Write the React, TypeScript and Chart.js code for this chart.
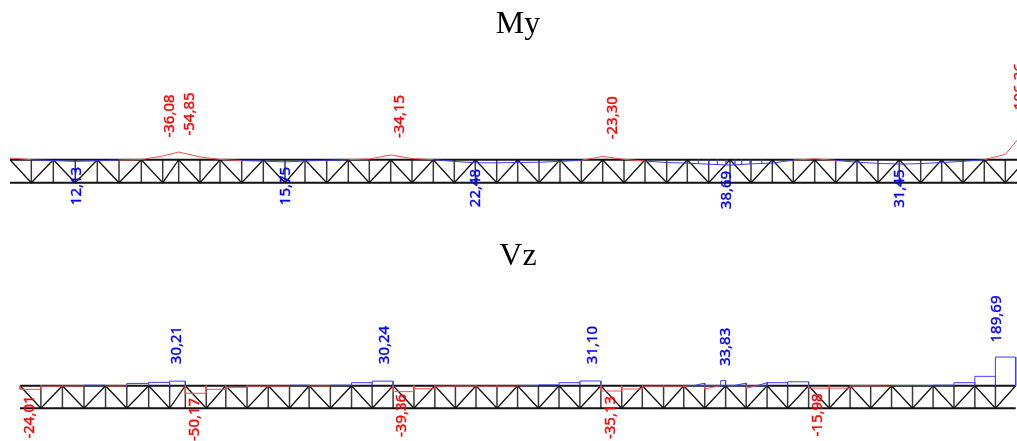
import React, { useEffect, useRef } from "react";
import { Chart, registerables } from "chart.js";

Chart.register(...registerables);

const trussDepth = 2.3;
const stations = [
  0, 2.13, 4.33, 6.53, 8.73, 10.9, 13.13, 15.27, 16.87, 19, 21, 23.17, 25.33, 27.5, 29.5, 31.67, 33.83,
  35.93, 38.07, 40.2, 42.33, 44.43, 46.53, 48.67, 50.77, 52.9, 55, 57.13, 59.27, 61.4, 63.5, 65.67, 67.73,
  69.87, 72, 74.1, 76.23, 78.33, 80.47, 82.57, 84.7, 86.8, 88.93, 91.07, 93.17, 95.3, 97.43, 99.53, 101.6,
];

const myValues = [
  -12, 0, 6, 12.13, 8, 2, -1, -26, -54.85, -20, -2, 6, 10, 15.75, 9, 4, 0, -5, -34.15, -8, 0, 12, 22.48, 22,
  20, 18, 12, 4, -23.3, -3, 10, 20, 25, 32, 38.69, 30, 24, 3, -6, 5, 18, 26, 31.45, 28, 20, 12, 0, -38, -214,
];
const myOrdinateX = [68.83, 69.87, 70.73, 71.6, 72.5, 73.17, 74, 75.17];
const myOrdinateV = [29, 32, 35, 37, 36, 33, 30, 27];
const myLabelTexts = ["-36,08", "-54,85", "-34,15", "-23,30", "-106,26", "12,13", "15,75", "22,48", "38,69", "31,45"];
const myLabelStations = [16, 18, 39, 60.27, 101, 6.65, 27.55, 46.57, 71.67, 89];
const myLabelHeights = [6.67, 6.87, 6.62, 6.5, 9.37, -0.33, -0.33, -0.53, -0.73, -0.6];
const myLabelValues = [-36.08, -54.85, -34.15, -23.3, -106.26, 12.13, 15.75, 22.48, 38.69, 31.45];

const vzPanels = [
  -24.01, -3, -2, 3, -2, 15, 22, 30.21, -50.17, -24, -11, -3, -3, 3, -2, 3, 20, 30.24, -39.36, -20, -3, -2, -3, -3,
  2, 5, 20, 31.1, -35.13, -22, -3, -3, 0, 0, 0, 0, 20, 26, -15.98, -15.98, -1, -2, 1, 1, 3, 20, 62, 189.69,
];
const vzLocalX = [67.73, 67.73, 68.3, 68.7, 69.87, 69.87, 69.87, 71.4, 71.5, 71.5, 72, 72, 72.79, 74.1, 74.1, 74.1, 75.2, 76.23, 76.23];
const vzLocalV = [0, -8, 0, 0, 17, 0, -22, 0, 0, 33.83, 33.83, 0, 0, 17, 0, -17, 0, 20, 0];
const vzLabelTexts = ["30,21", "30,24", "31,10", "33,83", "189,69", "-24,01", "-50,17", "-39,36", "-35,13", "-15,98"];
const vzLabelStations = [15.99, 37.24, 58.44, 72.04, 99.66, 0.95, 17.86, 38.95, 60.28, 81.36];
const vzLabelHeights = [6.46, 6.46, 6.46, 6.26, 9.11, -0.89, -1.14, -0.73, -0.94, -0.68];
const vzLabelValues = [30.21, 30.24, 31.1, 33.83, 189.69, -24.01, -50.17, -39.36, -35.13, -15.98];

const RED = "#ff4a4a";
const BLUE = "#3c3cff";

function trussDatasets() {
  const isTop = (i: number) => i % 2 === 0;
  const base = { yAxisID: "yTruss", borderColor: "#111111", pointRadius: 0, fill: false, tension: 0 };
  return [
    {
      ...base,
      label: "top chord",
      borderWidth: 2,
      data: [
        { x: stations[0], y: trussDepth },
        { x: stations[stations.length - 1], y: trussDepth },
      ],
    },
    {
      ...base,
      label: "bottom chord",
      borderWidth: 2,
      data: [
        { x: stations[0], y: 0 },
        { x: stations[stations.length - 1], y: 0 },
      ],
    },
    {
      ...base,
      label: "diagonals",
      borderWidth: 1.3,
      data: stations.map((s, i) => ({ x: s, y: isTop(i) ? trussDepth : 0 })),
    },
    {
      ...base,
      label: "verticals",
      borderWidth: 1.5,
      borderColor: "#3a3a3a",
      spanGaps: false,
      data: stations.slice(1, -1).flatMap((s) => [
        { x: s, y: 0 },
        { x: s, y: trussDepth },
        { x: s, y: NaN },
      ]),
    },
  ];
}

function diagramDataset(label: string, data: { x: number; y: number }[], width = 1) {
  return {
    label,
    yAxisID: "yDiagram",
    data,
    borderWidth: width,
    borderColor: BLUE,
    pointRadius: 0,
    fill: false,
    tension: 0,
    spanGaps: false,
    segment: {
      borderColor: (ctx: any) => (ctx.p0.parsed.y < 0 || ctx.p1.parsed.y < 0 ? RED : BLUE),
    },
  };
}

function labelPlugin(texts: string[], xs: number[], ys: number[], values: number[]) {
  return {
    id: "valueLabels",
    afterDatasetsDraw(chart: any) {
      const { ctx, scales } = chart;
      ctx.save();
      ctx.font = '15px "Noto Sans"';
      ctx.textAlign = "center";
      ctx.textBaseline = "middle";
      ctx.lineWidth = 0.4;
      texts.forEach((t, i) => {
        ctx.save();
        ctx.translate(scales.x.getPixelForValue(xs[i]), scales.yTruss.getPixelForValue(ys[i]));
        ctx.rotate(-Math.PI / 2);
        ctx.fillStyle = values[i] < 0 ? "#ff0000" : "#0000ff";
        ctx.strokeStyle = ctx.fillStyle;
        ctx.fillText(t, 0, 0);
        ctx.strokeText(t, 0, 0);
        ctx.restore();
      });
      ctx.restore();
    },
  };
}

function makeOptions(
  titleText: string,
  titlePadding: { top: number; bottom: number },
  xRange: [number, number],
  trussRange: [number, number],
  diagramRange: [number, number],
  reverse: boolean,
) {
  const hidden = { display: false, grid: { display: false } };
  return {
    animation: false as const,
    responsive: false,
    devicePixelRatio: 1,
    layout: { padding: 0 },
    plugins: {
      legend: { display: false },
      tooltip: { enabled: false },
      title: {
        display: true,
        text: titleText,
        color: "#000000",
        padding: titlePadding,
        font: { family: '"Liberation Serif"', size: 32, weight: "normal" as const, lineHeight: 1.25 },
      },
    },
    scales: {
      x: { ...hidden, type: "linear" as const, min: xRange[0], max: xRange[1] },
      yTruss: { ...hidden, type: "linear" as const, min: trussRange[0], max: trussRange[1] },
      yDiagram: { ...hidden, type: "linear" as const, min: diagramRange[0], max: diagramRange[1], reverse },
    },
  };
}

export default function App() {
  const topRef = useRef<HTMLCanvasElement>(null);
  const bottomRef = useRef<HTMLCanvasElement>(null);

  useEffect(() => {
    const myLine = stations.map((s, i) => ({ x: s, y: myValues[i] }));
    const myOrdinates = myOrdinateX.flatMap((x, i) => [
      { x, y: 0 },
      { x, y: myOrdinateV[i] },
      { x, y: NaN },
    ]);
    const vzRects = vzPanels.flatMap((v, i) => [
      { x: stations[i], y: 0 },
      { x: stations[i], y: v },
      { x: stations[i + 1], y: v },
      { x: stations[i + 1], y: 0 },
    ]);
    const vzLocal = vzLocalX.map((x, i) => ({ x, y: vzLocalV[i] }));

    const top = new Chart(topRef.current!, {
      type: "line",
      data: {
        datasets: [
          diagramDataset("My", myLine),
          { ...diagramDataset("My ordinates", myOrdinates, 0.6), segment: undefined },
          ...trussDatasets(),
        ] as any,
      },
      options: makeOptions("My", { top: 5, bottom: 5 }, [-1, 102.6], [-3.73, 13.27], [-783.6, 430.7], true) as any,
      plugins: [labelPlugin(myLabelTexts, myLabelStations, myLabelHeights, myLabelValues)],
    });
    const bottom = new Chart(bottomRef.current!, {
      type: "line",
      data: {
        datasets: [diagramDataset("Vz", vzRects), diagramDataset("Vz local", vzLocal), ...trussDatasets()] as any,
      },
      options: makeOptions("Vz", { top: 17, bottom: 3 }, [-2.04, 103.67], [-3.34, 13.09], [-366.2, 700], false) as any,
      plugins: [labelPlugin(vzLabelTexts, vzLabelStations, vzLabelHeights, vzLabelValues)],
    });
    return () => {
      top.destroy();
      bottom.destroy();
    };
  }, []);

  return (
    <div style={{ position: "absolute", left: 0, top: 0, width: 1017, height: 441, overflow: "hidden", background: "#fff" }}>
      <canvas ref={topRef} width={1036} height={220} style={{ display: "block", width: 1036, height: 220 }} />
      <canvas ref={bottomRef} width={1036} height={221} style={{ display: "block", width: 1036, height: 221 }} />
    </div>
  );
}
